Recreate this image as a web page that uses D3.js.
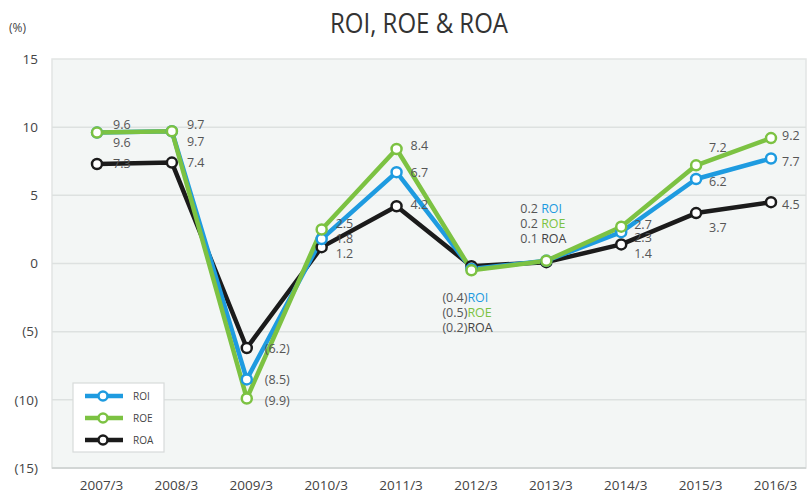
<!DOCTYPE html>
<html><head><meta charset="utf-8">
<script src="https://cdn.jsdelivr.net/npm/d3@7"></script>
<style>
body{margin:0;background:#fff;}
text{font-family:"Open Sans","Noto Sans",sans-serif;}
</style></head>
<body><svg id="c" width="810" height="495"></svg>
<script>
// ---- data ----
const categories = ["2007/3","2008/3","2009/3","2010/3","2011/3","2012/3","2013/3","2014/3","2015/3","2016/3"];
const roi = [9.6, 9.7, -8.5, 1.8, 6.7, -0.4, 0.2, 2.3, 6.2, 7.7];
const roe = [9.6, 9.7, -9.9, 2.5, 8.4, -0.5, 0.2, 2.7, 7.2, 9.2];
const roa = [7.3, 7.4, -6.2, 1.2, 4.2, -0.2, 0.1, 1.4, 3.7, 4.5];
const yTicks = [15, 10, 5, 0, -5, -10, -15];
const seriesNames = ["ROI", "ROE", "ROA"];

// ---- layout (label offsets in px relative to point) ----
const labelOffsets = {
  ROI: [[16,10],[15,10],[18,0],[14,0],[14,0],[-29,28],[-26,-53],[13,5],[13,3],[11,3]],
  ROE: [[16,-8],[15,-7],[18,2],[14,-6],[14,-3],[-29,42],[-26,-38],[13,-2],[13,-18],[11,-3]],
  ROA: [[16,0],[15,0],[18,0],[14,6],[14,-2],[-29,61],[-26,-24],[13,9],[13,14],[11,2]]
};
const colors = {ROI:"#1e9be0", ROE:"#7cc242", ROA:"#1b1b1b"};
const seriesData = {ROI: roi, ROE: roe, ROA: roa};

const svg = d3.select("#c");
const plot = {left:52, right:806, top:59, bottom:468};

const x = d3.scalePoint().domain(categories).range([97, 771]);
const y = d3.scaleLinear().domain([-15, 15]).range([plot.bottom, plot.top]);

const fmt = v => v < 0 ? "(" + d3.format(".1f")(-v) + ")" : d3.format(".1f")(v);

// plot background
svg.append("rect").attr("x", plot.left).attr("y", plot.top)
  .attr("width", plot.right - plot.left).attr("height", plot.bottom - plot.top)
  .attr("fill", "#f3f6f5").attr("stroke", "#e2e5e4").attr("stroke-width", 1.5);

// grid
svg.append("g").selectAll("line").data(yTicks.filter(t => t !== 15 && t !== -15)).join("line")
  .attr("x1", plot.left).attr("x2", plot.right)
  .attr("y1", d => y(d)).attr("y2", d => y(d))
  .attr("stroke", "#dde1e0").attr("stroke-width", 1.5);
svg.append("line").attr("x1", plot.left).attr("x2", plot.right)
  .attr("y1", plot.bottom).attr("y2", plot.bottom)
  .attr("stroke", "#d2d6d5").attr("stroke-width", 2);

// y axis
const yAxis = d3.axisLeft(y).tickValues(yTicks).tickSize(0).tickPadding(0)
  .tickFormat(d => d < 0 ? "(" + (-d) + ")" : String(d));
const yg = svg.append("g").attr("transform", "translate(38,0)").call(yAxis);
yg.select(".domain").remove();
yg.selectAll("text").attr("font-size", 13.5).attr("fill", "#444")
  .attr("font-family", "'Open Sans',sans-serif");

// x axis
const xAxis = d3.axisBottom(x).tickSize(0).tickPadding(0);
const xg = svg.append("g").attr("transform", "translate(4,480)").call(xAxis);
xg.select(".domain").remove();
xg.selectAll("text").attr("font-size", 13.5).attr("fill", "#444")
  .attr("font-family", "'Open Sans',sans-serif");

// title
svg.append("text").attr("x", 419).attr("y", 33).attr("text-anchor", "middle")
  .attr("font-size", 27).attr("fill", "#333")
  .attr("textLength", 178).attr("lengthAdjust", "spacingAndGlyphs")
  .text("ROI, ROE & ROA");
svg.append("text").attr("x", 9).attr("y", 32).attr("font-size", 12).attr("fill", "#444").text("(%)");

// lines
const line = d3.line().x((d, i) => x(categories[i])).y(d => y(d));
const drawOrder = ["ROA", "ROI", "ROE"];
drawOrder.forEach(name => {
  svg.append("path").datum(seriesData[name]).attr("d", line)
    .attr("fill", "none").attr("stroke", colors[name]).attr("stroke-width", 4.5)
    .attr("stroke-linejoin", "round");
});
drawOrder.forEach(name => {
  svg.append("g").selectAll("circle").data(seriesData[name]).join("circle")
    .attr("cx", (d, i) => x(categories[i])).attr("cy", d => y(d)).attr("r", 5)
    .attr("fill", "#fff").attr("stroke", colors[name]).attr("stroke-width", 2.5);
});

// value labels
const lg = svg.append("g");
seriesNames.forEach(name => {
  seriesData[name].forEach((v, i) => {
    const [dx, dy] = labelOffsets[name][i];
    const t = lg.append("text").attr("x", x(categories[i]) + dx).attr("y", y(v) + dy)
      .attr("dominant-baseline", "central").attr("font-size", 12.5).attr("fill", "#555");
    if (categories[i] === "2012/3") {
      t.append("tspan").text(fmt(v));
      t.append("tspan").attr("fill", colors[name] === "#1b1b1b" ? "#444" : colors[name]).text(name);
    } else if (categories[i] === "2013/3") {
      t.append("tspan").text(fmt(v) + " ");
      t.append("tspan").attr("fill", colors[name] === "#1b1b1b" ? "#444" : colors[name]).text(name);
    } else {
      t.text(fmt(v));
    }
  });
});

// legend
const leg = svg.append("g");
leg.append("rect").attr("x", 73).attr("y", 383).attr("width", 91).attr("height", 69)
  .attr("fill", "#fff").attr("stroke", "#d8dbda").attr("stroke-width", 1.2);
seriesNames.forEach((name, i) => {
  const ly = 396 + i * 22;
  leg.append("line").attr("x1", 85).attr("x2", 123).attr("y1", ly).attr("y2", ly)
    .attr("stroke", colors[name]).attr("stroke-width", 4.5);
  leg.append("circle").attr("cx", 103).attr("cy", ly).attr("r", 4.5)
    .attr("fill", "#fff").attr("stroke", colors[name]).attr("stroke-width", 2.5);
  leg.append("text").attr("x", 133).attr("y", ly).attr("dominant-baseline", "central")
    .attr("font-size", 10).attr("fill", "#444").text(name);
});
</script></body></html>
